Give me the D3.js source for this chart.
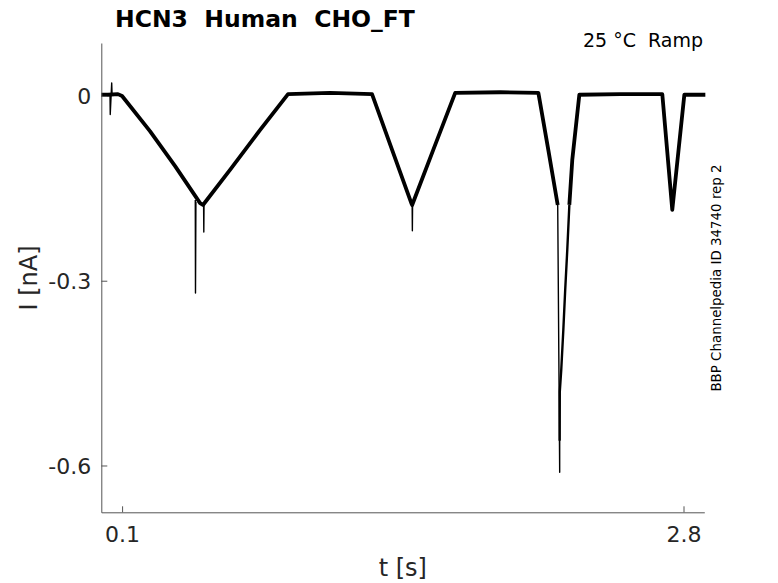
<!DOCTYPE html>
<html>
<head>
<meta charset="utf-8">
<script src="https://cdn.jsdelivr.net/npm/d3@7"></script>
<style>
  body { margin: 0; background: #fff; }
  svg text { font-family: "DejaVu Sans", sans-serif; fill: #262626; }
</style>
</head>
<body>
<svg id="chart"></svg>
<script>
// HCN3 ramp recording: current trace

// main trace up to the big dip, [t in s, I in nA]
const firstT = [0.000, 0.032, 0.080, 0.100, 0.234, 0.355, 0.475, 0.489, 0.619, 0.764, 0.898,
  1.100, 1.302, 1.399, 1.491, 1.495, 1.596, 1.702, 1.919, 2.102, 2.150, 2.195];
const firstI = [0.002, 0.002, 0.003, 0.000, -0.057, -0.114, -0.174, -0.177, -0.120, -0.055, 0.003,
  0.005, 0.003, -0.088, -0.174, -0.177, -0.088, 0.005, 0.006, 0.005, -0.088, -0.177];

// main trace after the big dip
const lastT = [2.251, 2.265, 2.299, 2.496, 2.698, 2.746, 2.804, 2.905];
const lastI = [-0.177, -0.104, 0.002, 0.003, 0.003, -0.185, 0.002, 0.002];

// fast drop to the deepest point
const dipT = [2.195, 2.2045, 2.2045];
const dipI = [-0.177, -0.611, -0.560];

// recovery from the deepest point
const recT = [2.2045, 2.205, 2.212, 2.222, 2.231, 2.241, 2.251];
const recI = [-0.560, -0.480, -0.445, -0.380, -0.315, -0.250, -0.177];

// short artefact spikes, each a list of [t, I]
const spikes = [
  [[0.042, 0.000], [0.043, -0.030], [0.050, 0.021], [0.052, 0.000]],
  [[0.452, -0.169], [0.453, -0.320], [0.455, -0.172]],
  [[0.492, -0.177], [0.493, -0.221], [0.494, -0.178]],
  [[1.495, -0.177], [1.496, -0.219], [1.497, -0.178]]
];

const xTicks = [0.1, 2.8];
const yTicks = [0, -0.3, -0.6];
const yTickLabels = ['0', '-0.3', '-0.6'];
const xDomain = [0, 2.9];
const yDomain = [-0.676, 0.086];

const W = 778, H = 583;
const M = { top: 43, right: 73.7, bottom: 70.7, left: 101.3 };
const innerW = W - M.left - M.right;
const innerH = H - M.top - M.bottom;

const svg = d3.select('#chart').attr('width', W).attr('height', H);
const g = svg.append('g').attr('transform', `translate(${M.left},${M.top})`);

const x = d3.scaleLinear().domain(xDomain).range([0, innerW]);
const y = d3.scaleLinear().domain(yDomain).range([innerH, 0]);

const line = d3.line().x(d => x(d[0])).y(d => y(d[1]));
const pairs = (ts, is) => ts.map((t, i) => [t, is[i]]);

function drawTrace(data, width) {
  g.append('path')
    .datum(data)
    .attr('d', line)
    .attr('fill', 'none')
    .attr('stroke', '#000')
    .attr('stroke-width', width)
    .attr('stroke-linejoin', 'round');
}

drawTrace(pairs(firstT, firstI), 3.8);
drawTrace(pairs(lastT, lastI), 3.8);
drawTrace(pairs(recT, recI), 2.4);
drawTrace(pairs(dipT, dipI), 1.4);
spikes.forEach(s => drawTrace(s, 1.4));

// axes, ticks pointing inward
const xAxis = d3.axisBottom(x).tickValues(xTicks).tickSizeInner(-6).tickSizeOuter(0)
  .tickFormat(d => String(d));
const yAxis = d3.axisLeft(y).tickValues(yTicks).tickSizeInner(-6).tickSizeOuter(0)
  .tickFormat((d, i) => yTickLabels[i]);

const xg = g.append('g').attr('transform', `translate(0,${innerH})`).call(xAxis);
const yg = g.append('g').call(yAxis);

[xg, yg].forEach(a => {
  a.select('.domain').attr('stroke', '#555').attr('stroke-width', 1);
  a.selectAll('.tick line').attr('stroke', '#555').attr('stroke-width', 1);
  a.selectAll('.tick text').attr('font-size', 22).attr('fill', '#262626')
    .style('font-family', '"DejaVu Sans", sans-serif');
});
xg.selectAll('.tick text').attr('y', 30).attr('dy', 0);
yg.selectAll('.tick text').attr('x', -10).attr('dy', '0.35em');

// axis labels
g.append('text')
  .attr('x', innerW / 2)
  .attr('y', innerH + 64)
  .attr('text-anchor', 'middle')
  .attr('font-size', 24)
  .text('t [s]');

svg.append('text')
  .attr('transform', 'translate(37,278) rotate(-90)')
  .attr('text-anchor', 'middle')
  .attr('font-size', 24)
  .text('I [nA]');

// title and annotations
svg.append('text')
  .attr('x', 115)
  .attr('y', 27)
  .attr('font-size', 23.5)
  .attr('font-weight', 'bold')
  .style('fill', '#000')
  .style('white-space', 'pre')
  .text('HCN3  Human  CHO_FT');

svg.append('text')
  .attr('x', 703)
  .attr('y', 47)
  .attr('text-anchor', 'end')
  .attr('font-size', 19)
  .style('fill', '#000')
  .style('white-space', 'pre')
  .text('25 °C  Ramp');

svg.append('text')
  .attr('transform', 'translate(721,278) rotate(-90)')
  .attr('text-anchor', 'middle')
  .attr('font-size', 13.4)
  .style('fill', '#000')
  .text('BBP Channelpedia ID 34740 rep 2');
</script>
</body>
</html>
